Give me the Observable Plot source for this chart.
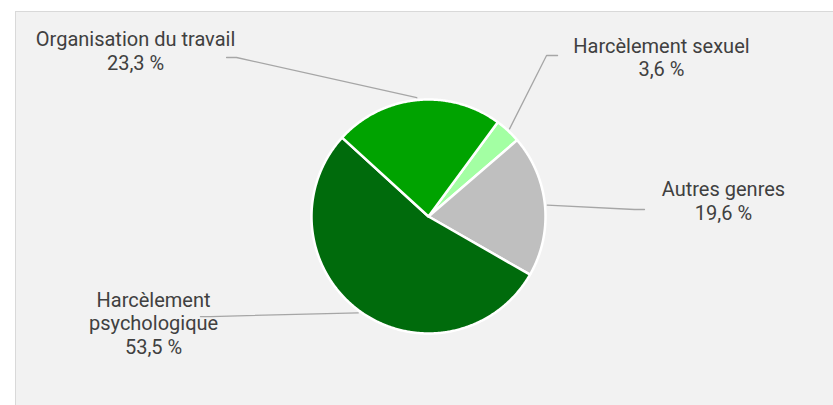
<!DOCTYPE html>
<html><head><meta charset="utf-8">
<script src="https://cdn.jsdelivr.net/npm/d3@7"></script>
<script src="https://cdn.jsdelivr.net/npm/@observablehq/plot@0.6"></script>
<style>
html,body{margin:0;padding:0;background:#fff;}
#wrap{position:relative;width:833px;height:405px;overflow:hidden;}
#panel{position:absolute;left:15px;top:11px;width:830px;height:400px;background:#f2f2f2;border:1px solid #d9d9d9;box-sizing:border-box;}
#chart{position:absolute;left:0;top:0;}
</style></head><body>
<div id="wrap"><div id="panel"></div><div id="chart"></div></div>
<script>
// ---- data ----
const categories = ["Harcèlement sexuel", "Autres genres", "Harcèlement psychologique", "Organisation du travail"];
const labelNames = ["Harcèlement sexuel", "Autres genres", "Harcèlement\npsychologique", "Organisation du travail"];
const values = [3.6, 19.6, 53.5, 23.3];
const colors = ["#a3ffa3", "#bfbfbf", "#006b0c", "#00a300"];

// ---- layout (radius units, relative to pie centre) ----
const startAngleDeg = 36.3;            // clockwise from 12 o'clock
const leaderElbowX = [1.009, 1.761, -1.863, -1.641];
const leaderElbowY = [1.376, 0.060, -0.855, 1.359];
const leaderEndX   = [1.103, 1.846, -1.949, -1.726];
const labelX       = [1.991, 2.521, -2.350, -2.504];
const labelY       = [1.197, -0.026, -1.171, 1.256];

const W = 833, H = 405, cx = 428, cy = 216, R = 117;

const total = d3.sum(values);
const rad = d => d * Math.PI / 180;
const slices = [];
const leaders = [];
const labels = [];
let a = rad(startAngleDeg);
values.forEach((v, i) => {
  const span = v / total * 2 * Math.PI;
  const a0 = a, a1 = a + span;
  const n = Math.max(2, Math.ceil(span / rad(0.5)));
  slices.push({slice: categories[i], u: 0, v: 0});
  for (let k = 0; k <= n; ++k) {
    const t = a0 + span * k / n;
    slices.push({slice: categories[i], u: Math.sin(t), v: Math.cos(t)});
  }
  slices.push({slice: categories[i], u: 0, v: 0});
  const mid = (a0 + a1) / 2;
  leaders.push({slice: categories[i], u: 1.02 * Math.sin(mid), v: 1.02 * Math.cos(mid)});
  leaders.push({slice: categories[i], u: leaderElbowX[i], v: leaderElbowY[i]});
  leaders.push({slice: categories[i], u: leaderEndX[i], v: leaderElbowY[i]});
  labels.push({
    u: labelX[i], v: labelY[i],
    text: labelNames[i] + "\n" + v.toFixed(1).replace(".", ",") + " %"
  });
  a = a1;
});

const chart = Plot.plot({
  width: W, height: H, margin: 0,
  x: {domain: [-cx / R, (W - cx) / R], range: [0, W], axis: null},
  y: {domain: [-(H - cy) / R, cy / R], range: [H, 0], axis: null},
  color: {domain: categories, range: colors},
  style: {background: "transparent", fontFamily: "Roboto, sans-serif", overflow: "visible"},
  marks: [
    Plot.line(slices, {x: "u", y: "v", z: "slice", fill: "slice", stroke: "white", strokeWidth: 2.5, curve: "linear"}),
    Plot.line(leaders, {x: "u", y: "v", z: "slice", stroke: "#a6a6a6", strokeWidth: 1.3, curve: "linear"}),
    Plot.text(labels, {x: "u", y: "v", text: "text", lineAnchor: "bottom", lineHeight: 1.17, fontSize: 20, fill: "#404040", textAnchor: "middle"})
  ]
});
document.getElementById("chart").appendChild(chart);
</script>
</body></html>
